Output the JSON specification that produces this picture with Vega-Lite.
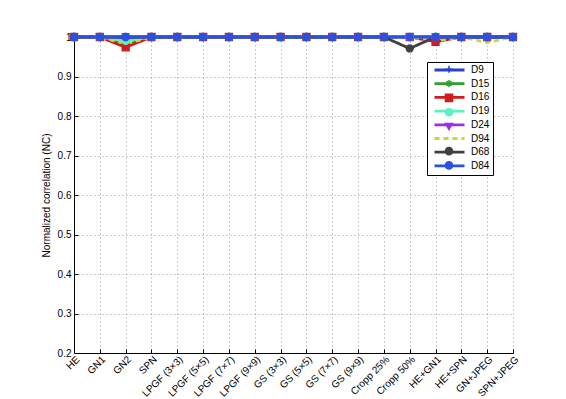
{
  "$schema": "https://vega.github.io/schema/vega-lite/v6.json",
  "autosize": "none",
  "width": 439,
  "height": 316,
  "padding": {"left": 74, "top": 37, "right": 53, "bottom": 46},
  "background": "white",
  "config": {
    "view": {"stroke": null},
    "font": "Liberation Sans",
    "axis": {
      "labelFont": "Liberation Sans", "labelFontSize": 10, "labelColor": "black",
      "titleFont": "Liberation Sans", "titleFontSize": 10, "titleFontWeight": "normal", "titleColor": "black",
      "domainColor": "black", "tickColor": "black",
      "gridColor": "#9a9a9a", "gridDash": [1, 3], "gridWidth": 1
    }
  },
  "data": {"values": [
    {"series":"D9","cond":"HE","nc":1},{"series":"D9","cond":"GN1","nc":1},{"series":"D9","cond":"GN2","nc":0.997},{"series":"D9","cond":"SPN","nc":1},{"series":"D9","cond":"LPGF (3×3)","nc":1},{"series":"D9","cond":"LPGF (5×5)","nc":1},{"series":"D9","cond":"LPGF (7×7)","nc":1},{"series":"D9","cond":"LPGF (9×9)","nc":1},{"series":"D9","cond":"GS (3×3)","nc":1},{"series":"D9","cond":"GS (5×5)","nc":1},{"series":"D9","cond":"GS (7×7)","nc":1},{"series":"D9","cond":"GS (9×9)","nc":1},{"series":"D9","cond":"Cropp 25%","nc":1},{"series":"D9","cond":"Cropp 50%","nc":1},{"series":"D9","cond":"HE+GN1","nc":1},{"series":"D9","cond":"HE+SPN","nc":1},{"series":"D9","cond":"GN+JPEG","nc":1},{"series":"D9","cond":"SPN+JPEG","nc":1},
    {"series":"D15","cond":"HE","nc":1},{"series":"D15","cond":"GN1","nc":1},{"series":"D15","cond":"GN2","nc":0.98},{"series":"D15","cond":"SPN","nc":1},{"series":"D15","cond":"LPGF (3×3)","nc":1},{"series":"D15","cond":"LPGF (5×5)","nc":1},{"series":"D15","cond":"LPGF (7×7)","nc":1},{"series":"D15","cond":"LPGF (9×9)","nc":1},{"series":"D15","cond":"GS (3×3)","nc":1},{"series":"D15","cond":"GS (5×5)","nc":1},{"series":"D15","cond":"GS (7×7)","nc":1},{"series":"D15","cond":"GS (9×9)","nc":1},{"series":"D15","cond":"Cropp 25%","nc":1},{"series":"D15","cond":"Cropp 50%","nc":1},{"series":"D15","cond":"HE+GN1","nc":1},{"series":"D15","cond":"HE+SPN","nc":1},{"series":"D15","cond":"GN+JPEG","nc":1},{"series":"D15","cond":"SPN+JPEG","nc":1},
    {"series":"D16","cond":"HE","nc":1},{"series":"D16","cond":"GN1","nc":1},{"series":"D16","cond":"GN2","nc":0.974},{"series":"D16","cond":"SPN","nc":1},{"series":"D16","cond":"LPGF (3×3)","nc":1},{"series":"D16","cond":"LPGF (5×5)","nc":1},{"series":"D16","cond":"LPGF (7×7)","nc":1},{"series":"D16","cond":"LPGF (9×9)","nc":1},{"series":"D16","cond":"GS (3×3)","nc":1},{"series":"D16","cond":"GS (5×5)","nc":1},{"series":"D16","cond":"GS (7×7)","nc":1},{"series":"D16","cond":"GS (9×9)","nc":1},{"series":"D16","cond":"Cropp 25%","nc":1},{"series":"D16","cond":"Cropp 50%","nc":1},{"series":"D16","cond":"HE+GN1","nc":0.988},{"series":"D16","cond":"HE+SPN","nc":1},{"series":"D16","cond":"GN+JPEG","nc":1},{"series":"D16","cond":"SPN+JPEG","nc":1},
    {"series":"D19","cond":"HE","nc":1},{"series":"D19","cond":"GN1","nc":1},{"series":"D19","cond":"GN2","nc":0.99},{"series":"D19","cond":"SPN","nc":1},{"series":"D19","cond":"LPGF (3×3)","nc":1},{"series":"D19","cond":"LPGF (5×5)","nc":1},{"series":"D19","cond":"LPGF (7×7)","nc":1},{"series":"D19","cond":"LPGF (9×9)","nc":1},{"series":"D19","cond":"GS (3×3)","nc":1},{"series":"D19","cond":"GS (5×5)","nc":1},{"series":"D19","cond":"GS (7×7)","nc":1},{"series":"D19","cond":"GS (9×9)","nc":1},{"series":"D19","cond":"Cropp 25%","nc":1},{"series":"D19","cond":"Cropp 50%","nc":1},{"series":"D19","cond":"HE+GN1","nc":1},{"series":"D19","cond":"HE+SPN","nc":1},{"series":"D19","cond":"GN+JPEG","nc":1},{"series":"D19","cond":"SPN+JPEG","nc":1},
    {"series":"D24","cond":"HE","nc":1},{"series":"D24","cond":"GN1","nc":1},{"series":"D24","cond":"GN2","nc":1},{"series":"D24","cond":"SPN","nc":1},{"series":"D24","cond":"LPGF (3×3)","nc":1},{"series":"D24","cond":"LPGF (5×5)","nc":1},{"series":"D24","cond":"LPGF (7×7)","nc":1},{"series":"D24","cond":"LPGF (9×9)","nc":1},{"series":"D24","cond":"GS (3×3)","nc":1},{"series":"D24","cond":"GS (5×5)","nc":1},{"series":"D24","cond":"GS (7×7)","nc":1},{"series":"D24","cond":"GS (9×9)","nc":1},{"series":"D24","cond":"Cropp 25%","nc":1},{"series":"D24","cond":"Cropp 50%","nc":1},{"series":"D24","cond":"HE+GN1","nc":1},{"series":"D24","cond":"HE+SPN","nc":1},{"series":"D24","cond":"GN+JPEG","nc":1},{"series":"D24","cond":"SPN+JPEG","nc":1},
    {"series":"D94","cond":"HE","nc":1},{"series":"D94","cond":"GN1","nc":1},{"series":"D94","cond":"GN2","nc":0.983},{"series":"D94","cond":"SPN","nc":1},{"series":"D94","cond":"LPGF (3×3)","nc":1},{"series":"D94","cond":"LPGF (5×5)","nc":1},{"series":"D94","cond":"LPGF (7×7)","nc":1},{"series":"D94","cond":"LPGF (9×9)","nc":1},{"series":"D94","cond":"GS (3×3)","nc":1},{"series":"D94","cond":"GS (5×5)","nc":1},{"series":"D94","cond":"GS (7×7)","nc":1},{"series":"D94","cond":"GS (9×9)","nc":1},{"series":"D94","cond":"Cropp 25%","nc":1},{"series":"D94","cond":"Cropp 50%","nc":1},{"series":"D94","cond":"HE+GN1","nc":0.99},{"series":"D94","cond":"HE+SPN","nc":1},{"series":"D94","cond":"GN+JPEG","nc":0.986},{"series":"D94","cond":"SPN+JPEG","nc":1},
    {"series":"D68","cond":"HE","nc":1},{"series":"D68","cond":"GN1","nc":1},{"series":"D68","cond":"GN2","nc":1},{"series":"D68","cond":"SPN","nc":1},{"series":"D68","cond":"LPGF (3×3)","nc":1},{"series":"D68","cond":"LPGF (5×5)","nc":1},{"series":"D68","cond":"LPGF (7×7)","nc":1},{"series":"D68","cond":"LPGF (9×9)","nc":1},{"series":"D68","cond":"GS (3×3)","nc":1},{"series":"D68","cond":"GS (5×5)","nc":1},{"series":"D68","cond":"GS (7×7)","nc":1},{"series":"D68","cond":"GS (9×9)","nc":1},{"series":"D68","cond":"Cropp 25%","nc":1},{"series":"D68","cond":"Cropp 50%","nc":0.971},{"series":"D68","cond":"HE+GN1","nc":1},{"series":"D68","cond":"HE+SPN","nc":1},{"series":"D68","cond":"GN+JPEG","nc":1},{"series":"D68","cond":"SPN+JPEG","nc":1},
    {"series":"D84","cond":"HE","nc":1},{"series":"D84","cond":"GN1","nc":1},{"series":"D84","cond":"GN2","nc":1},{"series":"D84","cond":"SPN","nc":1},{"series":"D84","cond":"LPGF (3×3)","nc":1},{"series":"D84","cond":"LPGF (5×5)","nc":1},{"series":"D84","cond":"LPGF (7×7)","nc":1},{"series":"D84","cond":"LPGF (9×9)","nc":1},{"series":"D84","cond":"GS (3×3)","nc":1},{"series":"D84","cond":"GS (5×5)","nc":1},{"series":"D84","cond":"GS (7×7)","nc":1},{"series":"D84","cond":"GS (9×9)","nc":1},{"series":"D84","cond":"Cropp 25%","nc":1},{"series":"D84","cond":"Cropp 50%","nc":1},{"series":"D84","cond":"HE+GN1","nc":1},{"series":"D84","cond":"HE+SPN","nc":1},{"series":"D84","cond":"GN+JPEG","nc":1},{"series":"D84","cond":"SPN+JPEG","nc":1}
  ]},
  "encoding": {
    "x": {
      "field": "cond", "type": "ordinal",
      "scale": {"type": "point", "padding": 0, "domain": ["HE","GN1","GN2","SPN","LPGF (3×3)","LPGF (5×5)","LPGF (7×7)","LPGF (9×9)","GS (3×3)","GS (5×5)","GS (7×7)","GS (9×9)","Cropp 25%","Cropp 50%","HE+GN1","HE+SPN","GN+JPEG","SPN+JPEG"]},
      "axis": {"title": null, "labelAngle": -45, "labelAlign": "right", "labelBaseline": "top", "grid": true, "tickSize": -4, "labelPadding": 5, "domain": true}
    },
    "y": {
      "field": "nc", "type": "quantitative",
      "scale": {"domain": [0.2, 1], "nice": false, "zero": false},
      "axis": {"title": "Normalized correlation (NC)", "values": [0.2,0.3,0.4,0.5,0.6,0.7,0.8,0.9,1], "labelExpr": "datum.value == 1 ? '1' : format(datum.value, '.1f')", "grid": true, "tickSize": -4, "labelPadding": 7, "titlePadding": 6}
    }
  },
  "layer": [
    {
      "mark": {"type": "line", "strokeWidth": 2.8},
      "encoding": {
        "color": {
          "field": "series", "type": "nominal",
          "scale": {"domain": ["D9","D15","D16","D19","D24","D94","D68","D84"], "range": ["#2b3fcf","#2e9e2e","#d01c1c","#5ef0c0","#9a30e8","#c8d838","#404040","#2a52e0"]},
          "legend": {"title": null, "orient": "none", "legendX": 353, "legendY": 25, "symbolType": "M-0.143,0L8.43,0", "symbolSize": 49, "symbolStrokeWidth": 2.8, "labelFontSize": 10, "labelFont": "Liberation Sans", "labelColor": "black", "strokeColor": "black", "fillColor": "white", "padding": 3, "rowPadding": 1.7, "labelOffset": 31}
        },
        "strokeDash": {
          "field": "series", "type": "nominal",
          "scale": {"domain": ["D9","D15","D16","D19","D24","D94","D68","D84"], "range": [[1,0],[1,0],[1,0],[1,0],[1,0],[5,4],[1,0],[1,0]]},
          "legend": {"title": null, "orient": "none", "legendX": 353, "legendY": 25, "symbolType": "M-0.143,0L8.43,0", "symbolSize": 49, "symbolStrokeWidth": 2.8, "labelFontSize": 10, "labelFont": "Liberation Sans", "labelColor": "black", "strokeColor": "black", "fillColor": "white", "padding": 3, "rowPadding": 1.7, "labelOffset": 31}
        }
      }
    },
    {
      "transform": [{"calculate": "datum.series", "as": "mk"}],
      "mark": {"type": "point", "filled": true, "strokeWidth": 1.2, "opacity": 1},
      "encoding": {
        "fill": {
          "field": "mk", "type": "nominal",
          "scale": {"domain": ["D9","D15","D16","D19","D24","D94","D68","D84"], "range": ["#2b3fcf","#2e9e2e","#d01c1c","#5ef0c0","#9a30e8","#c8d838","#404040","#2a52e0"]},
          "legend": {"title": null, "orient": "none", "legendX": 367, "legendY": 24.3, "labelOpacity": 0, "labelFontSize": 10, "labelFont": "Liberation Sans", "padding": 3, "rowPadding": 0.3, "labelOffset": 5, "strokeColor": null, "fillColor": null}
        },
        "stroke": {
          "field": "mk", "type": "nominal",
          "scale": {"domain": ["D9","D15","D16","D19","D24","D94","D68","D84"], "range": ["#2b3fcf","#2e9e2e","#d01c1c","#5ef0c0","#9a30e8","#c8d838","#404040","#2a52e0"]},
          "legend": {"title": null, "orient": "none", "legendX": 367, "legendY": 24.3, "labelOpacity": 0, "labelFontSize": 10, "labelFont": "Liberation Sans", "padding": 3, "rowPadding": 0.3, "labelOffset": 5, "strokeColor": null, "fillColor": null}
        },
        "shape": {
          "field": "mk", "type": "nominal",
          "scale": {"domain": ["D9","D15","D16","D19","D24","D94","D68","D84"], "range": ["M-1,0L1,0M0,-1L0,1","M-1,0L1,0M0,-1L0,1M-0.7,-0.7L0.7,0.7M-0.7,0.7L0.7,-0.7","square","circle","triangle-down","M0,0","circle","circle"]},
          "legend": {"title": null, "orient": "none", "legendX": 367, "legendY": 24.3, "labelOpacity": 0, "labelFontSize": 10, "labelFont": "Liberation Sans", "padding": 3, "rowPadding": 0.3, "labelOffset": 5, "strokeColor": null, "fillColor": null}
        },
        "size": {
          "field": "mk", "type": "nominal",
          "scale": {"domain": ["D9","D15","D16","D19","D24","D94","D68","D84"], "range": [50,50,40,50,70,1,25,40]},
          "legend": {"title": null, "orient": "none", "legendX": 367, "legendY": 24.3, "labelOpacity": 0, "labelFontSize": 10, "labelFont": "Liberation Sans", "padding": 3, "rowPadding": 0.3, "labelOffset": 5, "strokeColor": null, "fillColor": null}
        }
      }
    }
  ],
  "resolve": {"scale": {"color": "independent", "fill": "independent", "stroke": "independent", "shape": "independent", "size": "independent", "strokeDash": "independent"}}
}
